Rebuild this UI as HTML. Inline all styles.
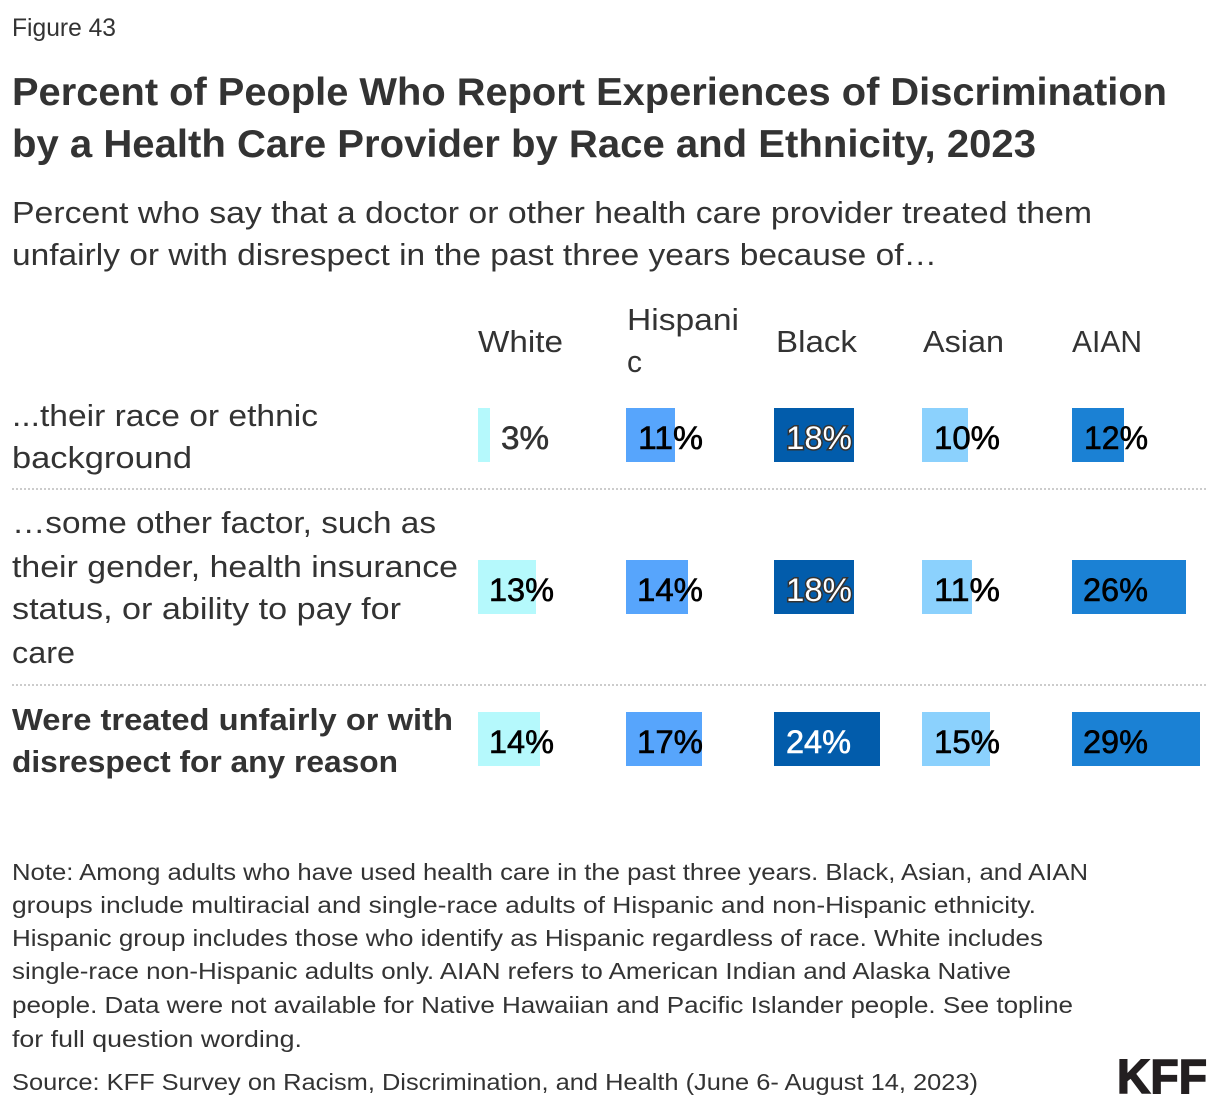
<!DOCTYPE html>
<html>
<head>
<meta charset="utf-8">
<style>
  html, body { margin: 0; padding: 0; background: #ffffff; }
  body { width: 1220px; height: 1110px; overflow: hidden; }
  svg { display: block; }
  text { font-family: "Liberation Sans", Arial, sans-serif; fill: #333333; }
  .t { font-weight: bold; font-size: 39px; }
  .s { font-size: 31px; }
  .l { font-size: 31px; }
  .lb { font-size: 31px; font-weight: bold; }
  .h { font-size: 31px; }
  .v { font-size: 32px; fill: #000000; stroke: #000000; stroke-width: 0.6px; }
  .n { font-size: 23px; }
</style>
</head>
<body>
<svg width="1220" height="1110" viewBox="0 0 1220 1110" xmlns="http://www.w3.org/2000/svg">
  <rect x="0" y="0" width="1220" height="1110" fill="#ffffff"/>

  <!-- Header -->
  <text x="12" y="36" font-size="25" textLength="104" lengthAdjust="spacingAndGlyphs">Figure 43</text>
  <text class="t" x="12" y="105" textLength="1155" lengthAdjust="spacingAndGlyphs">Percent of People Who Report Experiences of Discrimination</text>
  <text class="t" x="12" y="157" textLength="1024" lengthAdjust="spacingAndGlyphs">by a Health Care Provider by Race and Ethnicity, 2023</text>
  <text class="s" x="12" y="223" textLength="1080" lengthAdjust="spacingAndGlyphs">Percent who say that a doctor or other health care provider treated them</text>
  <text class="s" x="12" y="265" textLength="925" lengthAdjust="spacingAndGlyphs">unfairly or with disrespect in the past three years because of…</text>

  <!-- Column headers -->
  <text class="h" x="478" y="352" textLength="85" lengthAdjust="spacingAndGlyphs">White</text>
  <text class="h" x="627" y="330" textLength="112" lengthAdjust="spacingAndGlyphs">Hispani</text>
  <text class="h" x="627" y="372" textLength="15" lengthAdjust="spacingAndGlyphs">c</text>
  <text class="h" x="776" y="352" textLength="81" lengthAdjust="spacingAndGlyphs">Black</text>
  <text class="h" x="923" y="352" textLength="81" lengthAdjust="spacingAndGlyphs">Asian</text>
  <text class="h" x="1072" y="352" textLength="70" lengthAdjust="spacingAndGlyphs">AIAN</text>

  <!-- Row labels -->
  <text class="l" x="12" y="426" textLength="306" lengthAdjust="spacingAndGlyphs">...their race or ethnic</text>
  <text class="l" x="12" y="468" textLength="180" lengthAdjust="spacingAndGlyphs">background</text>

  <text class="l" x="12" y="533" textLength="424" lengthAdjust="spacingAndGlyphs">…some other factor, such as</text>
  <text class="l" x="12" y="577" textLength="446" lengthAdjust="spacingAndGlyphs">their gender, health insurance</text>
  <text class="l" x="12" y="619" textLength="389" lengthAdjust="spacingAndGlyphs">status, or ability to pay for</text>
  <text class="l" x="12" y="663" textLength="63" lengthAdjust="spacingAndGlyphs">care</text>

  <text class="lb" x="12" y="730" textLength="441" lengthAdjust="spacingAndGlyphs">Were treated unfairly or with</text>
  <text class="lb" x="12" y="772" textLength="386" lengthAdjust="spacingAndGlyphs">disrespect for any reason</text>

  <!-- Dotted separators -->
  <line x1="12" y1="489" x2="1208" y2="489" stroke="#cccccc" stroke-width="2" stroke-dasharray="2 2"/>
  <line x1="12" y1="685" x2="1208" y2="685" stroke="#cccccc" stroke-width="2" stroke-dasharray="2 2"/>

  <!-- Row 1 bars -->
  <rect x="478" y="408" width="12" height="54" fill="#b5f9fc"/>
  <rect x="626" y="408" width="49" height="54" fill="#57a5fc"/>
  <rect x="774" y="408" width="80" height="54" fill="#025cab"/>
  <rect x="922" y="408" width="46" height="54" fill="#8bd1fd"/>
  <rect x="1072" y="408" width="52" height="54" fill="#1b81d4"/>

  <!-- Row 2 bars -->
  <rect x="478" y="560" width="58" height="54" fill="#b5f9fc"/>
  <rect x="626" y="560" width="62" height="54" fill="#57a5fc"/>
  <rect x="774" y="560" width="80" height="54" fill="#025cab"/>
  <rect x="922" y="560" width="50" height="54" fill="#8bd1fd"/>
  <rect x="1072" y="560" width="114" height="54" fill="#1b81d4"/>

  <!-- Row 3 bars -->
  <rect x="478" y="712" width="62" height="54" fill="#b5f9fc"/>
  <rect x="626" y="712" width="76" height="54" fill="#57a5fc"/>
  <rect x="774" y="712" width="106" height="54" fill="#025cab"/>
  <rect x="922" y="712" width="68" height="54" fill="#8bd1fd"/>
  <rect x="1072" y="712" width="128" height="54" fill="#1b81d4"/>

  <!-- Row 1 values -->
  <text class="v" x="501" y="449" textLength="48" lengthAdjust="spacingAndGlyphs" style="fill:#333333;stroke:#333333;">3%</text>
  <text class="v" x="638" y="449" textLength="65" lengthAdjust="spacingAndGlyphs">11%</text>
  <text class="v" x="786" y="449" textLength="66" lengthAdjust="spacingAndGlyphs" style="fill:#ffffff;stroke:#333333;stroke-width:3px;paint-order:stroke;">18%</text>
  <text class="v" x="934" y="449" textLength="66" lengthAdjust="spacingAndGlyphs">10%</text>
  <text class="v" x="1084" y="449" textLength="64" lengthAdjust="spacingAndGlyphs">12%</text>

  <!-- Row 2 values -->
  <text class="v" x="489" y="601" textLength="65" lengthAdjust="spacingAndGlyphs">13%</text>
  <text class="v" x="637" y="601" textLength="66" lengthAdjust="spacingAndGlyphs">14%</text>
  <text class="v" x="786" y="601" textLength="66" lengthAdjust="spacingAndGlyphs" style="fill:#ffffff;stroke:#333333;stroke-width:3px;paint-order:stroke;">18%</text>
  <text class="v" x="934" y="601" textLength="66" lengthAdjust="spacingAndGlyphs">11%</text>
  <text class="v" x="1083" y="601" textLength="65" lengthAdjust="spacingAndGlyphs">26%</text>

  <!-- Row 3 values -->
  <text class="v" x="489" y="753" textLength="65" lengthAdjust="spacingAndGlyphs">14%</text>
  <text class="v" x="637" y="753" textLength="66" lengthAdjust="spacingAndGlyphs">17%</text>
  <text class="v" x="786" y="753" textLength="65" lengthAdjust="spacingAndGlyphs" style="fill:#ffffff;stroke:#ffffff;">24%</text>
  <text class="v" x="934" y="753" textLength="66" lengthAdjust="spacingAndGlyphs">15%</text>
  <text class="v" x="1083" y="753" textLength="65" lengthAdjust="spacingAndGlyphs">29%</text>

  <!-- Notes -->
  <text class="n" x="12" y="880" textLength="1076" lengthAdjust="spacingAndGlyphs">Note: Among adults who have used health care in the past three years. Black, Asian, and AIAN</text>
  <text class="n" x="12" y="913" textLength="1024" lengthAdjust="spacingAndGlyphs">groups include multiracial and single-race adults of Hispanic and non-Hispanic ethnicity.</text>
  <text class="n" x="12" y="946" textLength="1031" lengthAdjust="spacingAndGlyphs">Hispanic group includes those who identify as Hispanic regardless of race. White includes</text>
  <text class="n" x="12" y="979" textLength="999" lengthAdjust="spacingAndGlyphs">single-race non-Hispanic adults only. AIAN refers to American Indian and Alaska Native</text>
  <text class="n" x="12" y="1013" textLength="1061" lengthAdjust="spacingAndGlyphs">people. Data were not available for Native Hawaiian and Pacific Islander people. See topline</text>
  <text class="n" x="12" y="1047" textLength="290" lengthAdjust="spacingAndGlyphs">for full question wording.</text>
  <text class="n" x="12" y="1090" textLength="966" lengthAdjust="spacingAndGlyphs">Source: KFF Survey on Racism, Discrimination, and Health (June 6- August 14, 2023)</text>

  <!-- KFF logo -->
  <text x="1117" y="1093" font-size="48" font-weight="bold" textLength="90" lengthAdjust="spacingAndGlyphs" style="fill:#231f20;stroke:#231f20;stroke-width:1.5px;">KFF</text>
</svg>
</body>
</html>
